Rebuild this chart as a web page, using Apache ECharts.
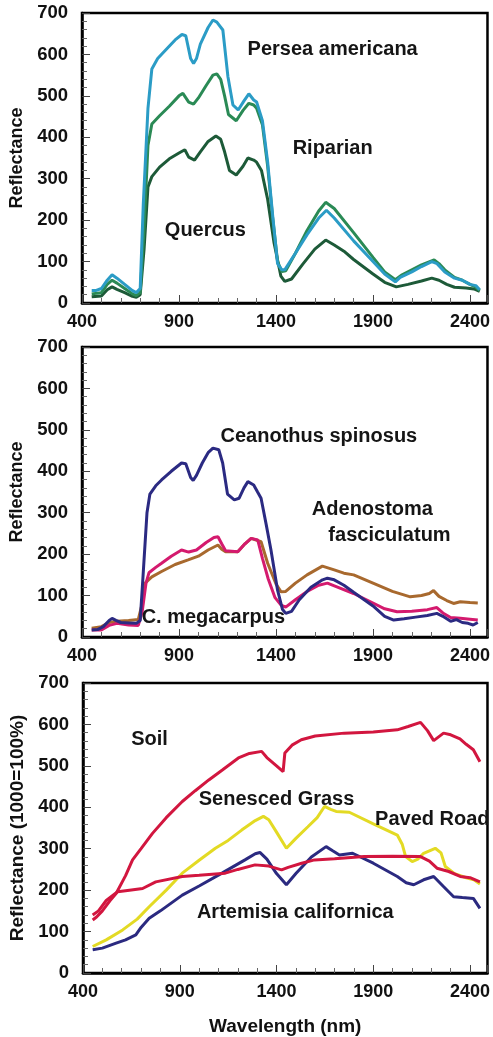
<!DOCTYPE html>
<html><head><meta charset="utf-8">
<script src="https://cdn.jsdelivr.net/npm/echarts@6/dist/echarts.min.js"></script>
<style>html,body{margin:0;padding:0;background:#fff}#c{width:493px;height:1037px}</style>
</head><body><div id="c"></div>
<script>
// ---------- Panel 1 ----------
const perseaWl = [450,470,500,530,555,580,620,660,680,700,716,740,760,790,830,880,915,935,960,975,990,1010,1050,1075,1095,1126,1152,1178,1205,1235,1260,1285,1300,1330,1357,1383,1408,1430,1445,1500,1560,1620,1660,1700,1800,1900,1960,2015,2040,2100,2150,2203,2230,2270,2320,2360,2400,2430,2450];
const perseaVal = [30,30,35,55,68,60,45,30,25,35,240,470,565,590,610,635,648,645,590,578,590,625,665,683,678,659,547,478,466,488,505,490,485,440,340,210,95,80,80,120,165,205,224,205,150,100,70,51,62,75,88,100,95,75,60,55,45,42,32];

const riparianWl = [450,500,530,555,580,620,660,680,700,720,740,760,800,850,900,920,950,975,1000,1040,1075,1095,1115,1135,1155,1195,1230,1260,1285,1300,1330,1357,1383,1408,1430,1450,1500,1560,1620,1656,1700,1800,1900,1960,2015,2050,2100,2150,2215,2240,2270,2320,2360,2400,2430,2450];
const riparianVal = [22,25,45,55,48,35,22,18,25,180,380,432,452,475,500,506,485,480,495,525,550,553,540,500,455,440,465,482,478,470,430,330,205,100,76,78,120,175,222,243,228,170,110,75,56,68,80,92,104,95,80,62,55,45,38,30];

const quercusWl = [450,500,530,555,580,620,660,680,700,720,740,760,800,850,900,930,950,980,1010,1050,1090,1115,1135,1160,1195,1230,1255,1285,1300,1325,1357,1390,1425,1445,1480,1540,1600,1656,1700,1750,1800,1900,1960,2020,2080,2150,2203,2240,2280,2320,2380,2420,2450];
const quercusVal = [15,17,32,39,33,25,16,14,20,130,280,305,328,348,362,370,352,345,365,390,403,395,365,320,309,330,350,345,340,320,250,145,65,52,58,95,130,152,140,125,105,70,50,39,45,53,60,55,45,38,36,34,28];

// ---------- Panel 2 ----------
const ceanothusWl = [450,480,510,540,555,575,600,640,680,700,715,735,750,780,810,860,913,935,960,973,990,1020,1050,1075,1105,1125,1150,1185,1210,1235,1255,1285,1305,1323,1350,1374,1408,1433,1450,1480,1520,1580,1640,1665,1700,1750,1800,1900,1960,2007,2060,2120,2180,2229,2260,2300,2330,2360,2390,2416,2440];
const ceanothusVal = [17,18,25,40,45,40,35,34,33,40,150,300,345,365,379,400,420,418,385,378,390,420,445,456,452,420,345,331,335,360,375,367,350,335,270,210,113,67,57,62,90,120,138,142,138,125,108,75,50,41,44,48,52,57,50,38,42,35,33,29,35];

const megacarpusWl = [450,500,540,580,640,690,710,730,745,780,810,860,913,950,990,1040,1080,1101,1120,1140,1203,1240,1272,1306,1330,1360,1395,1426,1450,1500,1560,1620,1665,1720,1800,1900,1960,2024,2100,2180,2229,2260,2300,2350,2400,2440];
const megacarpusVal = [17,17,28,33,29,28,60,130,155,168,178,195,210,205,210,228,240,242,225,208,206,225,238,234,190,140,95,77,72,90,110,125,130,120,105,82,68,61,62,66,71,58,47,45,43,41];

const adenostomaWl = [450,500,540,580,640,690,710,725,760,810,880,947,1000,1050,1101,1120,1140,1203,1240,1272,1323,1357,1400,1426,1450,1500,1560,1639,1700,1750,1800,1900,2000,2092,2150,2190,2212,2240,2280,2315,2350,2400,2440];
const adenostomaVal = [21,25,35,38,40,42,80,130,145,158,175,186,195,210,222,212,206,206,225,238,230,178,128,109,110,130,150,171,162,154,150,130,110,97,100,105,112,98,88,81,85,83,82];

// ---------- Panel 3 ----------
const soilWl = [450,470,500,540,571,620,656,700,759,830,913,980,1050,1120,1203,1260,1323,1350,1400,1434,1443,1480,1528,1600,1750,1900,2024,2080,2144,2180,2212,2263,2300,2348,2380,2417,2451];
const soilVal = [128,135,150,175,192,235,273,300,337,375,414,440,466,490,519,530,535,520,500,486,531,550,563,572,579,582,587,595,605,585,561,579,575,565,552,539,510];

const roadWl = [450,480,520,579,640,708,776,913,1000,1135,1200,1289,1360,1426,1460,1530,1596,1700,1853,2000,2144,2190,2229,2290,2349,2400,2451];
const roadVal = [140,150,175,196,200,204,220,233,236,241,250,261,258,249,255,265,273,276,281,282,281,270,253,245,233,230,220];

const grassWl = [450,520,605,680,742,830,913,1000,1084,1150,1220,1290,1332,1360,1400,1451,1500,1562,1610,1648,1680,1708,1776,1900,2024,2050,2067,2101,2130,2160,2220,2250,2272,2320,2380,2420,2451];
const grassVal = [64,80,104,130,160,200,241,272,301,320,345,368,378,370,340,301,325,353,375,402,395,390,388,360,333,310,281,269,275,289,301,290,257,240,230,225,215];

const artemisiaWl = [450,500,571,620,673,700,742,800,913,1000,1118,1237,1290,1314,1350,1400,1451,1500,1580,1656,1690,1725,1793,1900,2024,2070,2109,2160,2212,2260,2315,2360,2417,2451];
const artemisiaVal = [56,60,72,80,92,110,132,150,188,210,241,273,288,291,275,240,213,240,280,305,295,285,289,265,233,218,213,225,233,210,184,182,180,156];

// ---------- Labels ----------
const labels1 = [[1692,613,'Persea americana'],[1692,374,'Riparian'],[1036,176,'Quercus']];
const labels2 = [[1621,483,'Ceanothus spinosus'],[1897,307,'Adenostoma'],[1985,246,'fasciculatum'],[1077,48,'C. megacarpus']];
const labels3 = [[744,563,'Soil'],[1400,418,'Senesced Grass'],[2205,370,'Paved Road'],[1497,147,'Artemisia californica']];

const xTicks = [400,900,1400,1900,2400];
const yTitles = ['Reflectance','Reflectance','Reflectance (1000=100%)'];

const FONT = '"Liberation Sans", Arial, sans-serif';
const zip = (a,b) => a.map((x,i)=>[x,b[i]]);

const tops = [13, 347, 683];
const grids = tops.map(t => ({left:81, width:407, top:t, height:290, show:true, borderColor:'#000', borderWidth:2.5, backgroundColor:'transparent'}));

const xAxes = tops.map((t,i) => ({
  gridIndex:i, type:'value', min:400, max:2490, interval:500,
  axisLine:{show:true, lineStyle:{color:'#000', width:2.5}},
  axisTick:{show:true, inside:true, length:8, lineStyle:{color:'#444', width:1}},
  minorTick:{show:true, splitNumber:5, length:5, lineStyle:{color:'#666', width:1}},
  splitLine:{show:false},
  axisLabel:{margin:10, color:'#111', fontFamily:FONT, fontWeight:'bold', fontSize:18,
    formatter: v => xTicks.indexOf(v) >= 0 ? String(v) : ''},
  name: i===2 ? 'Wavelength (nm)' : '', nameLocation:'middle', nameGap:44,
  nameTextStyle:{color:'#111', fontFamily:FONT, fontWeight:'bold', fontSize:19}
}));

const yAxes = tops.map((t,i) => ({
  gridIndex:i, type:'value', min:0, max:700, interval:100,
  axisLine:{show:true, lineStyle:{color:'#000', width:2.5}},
  axisTick:{show:true, inside:true, length:8, lineStyle:{color:'#444', width:1}},
  minorTick:{show:true, splitNumber:5, length:5, lineStyle:{color:'#666', width:1}},
  splitLine:{show:false},
  axisLabel:{margin:14, color:'#111', fontFamily:FONT, fontWeight:'bold', fontSize:18.5},
  name: yTitles[i], nameLocation:'middle', nameGap: 56,
  nameTextStyle:{color:'#111', fontFamily:FONT, fontWeight:'bold', fontSize: i===2 ? 19 : 18}
}));

function line(name, wl, val, color, gi){
  return {name, type:'line', xAxisIndex:gi, yAxisIndex:gi, data:zip(wl,val), showSymbol:false,
    smooth:false, lineStyle:{color, width:3}, itemStyle:{color}, animation:false, z:3};
}
function lbl(data, gi){
  return {type:'scatter', xAxisIndex:gi, yAxisIndex:gi, data, symbolSize:0,
    itemStyle:{color:'#000', opacity:1}, animation:false, z:5, silent:true,
    label:{show:true, position:'inside', formatter:p=>p.data[2], color:'#151515', opacity:1,
      textBorderWidth:0, fontFamily:FONT, fontWeight:'bold', fontSize:20}};
}

const chart = echarts.init(document.getElementById('c'), null, {renderer:'canvas'});
chart.setOption({
  backgroundColor:'#fff', animation:false,
  grid:grids, xAxis:xAxes, yAxis:yAxes,
  series:[
    line('Quercus', quercusWl, quercusVal, '#1d5a38', 0),
    line('Riparian', riparianWl, riparianVal, '#2a8a55', 0),
    line('Persea americana', perseaWl, perseaVal, '#2b9cc6', 0),
    lbl(labels1, 0),
    line('Adenostoma fasciculatum', adenostomaWl, adenostomaVal, '#a8692e', 1),
    line('C. megacarpus', megacarpusWl, megacarpusVal, '#d41a6e', 1),
    line('Ceanothus spinosus', ceanothusWl, ceanothusVal, '#2b2a82', 1),
    lbl(labels2, 1),
    line('Artemisia californica', artemisiaWl, artemisiaVal, '#2b2a80', 2),
    line('Senesced Grass', grassWl, grassVal, '#e3da24', 2),
    line('Paved Road', roadWl, roadVal, '#d2163f', 2),
    line('Soil', soilWl, soilVal, '#d2163f', 2),
    lbl(labels3, 2)
  ]
});
</script></body></html>
